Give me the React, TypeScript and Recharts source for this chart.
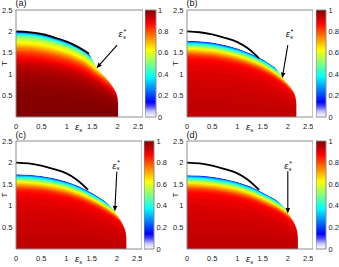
import React from 'react';
import { ComposedChart, BarChart, Bar, Area, Line, XAxis, YAxis, ReferenceLine, ReferenceDot } from 'recharts';

const FONT = '"Liberation Sans", Arial, Helvetica, sans-serif';
const FRAME = '#8c8c8c';
const TXT = '#1a1a1a';

const X_TICKS = [0, 0.5, 1, 1.5, 2, 2.5];
const Y_TICKS = [0.5, 1, 1.5, 2, 2.5];
const CB_TICKS = [0, 0.2, 0.4, 0.6, 0.8, 1];
const CB_DATA = [{ name: 'cb', v: 1 }];

// colormap (value -> colour), white-to-jet
const CMAP: [number, string][] = [
  [0, '#ffffff'], [0.05, '#c8c8ff'], [0.1, '#4646ff'], [0.14, '#0000ff'],
  [0.375, '#00ffff'], [0.625, '#ffff00'], [0.875, '#ff0000'], [1, '#800000'],
];

type Pt = { e: number; T: number };

// critical-temperature curves that shape the colour field (per panel)
const TC_A: Pt[] = [
  { e: 0, T: 2.0 }, { e: 0.25, T: 1.985 }, { e: 0.5, T: 1.94 }, { e: 0.75, T: 1.86 }, { e: 1.0, T: 1.76 },
  { e: 1.2, T: 1.65 }, { e: 1.4, T: 1.5 }, { e: 1.5, T: 1.39 }, { e: 1.6, T: 1.28 }, { e: 1.7, T: 1.18 },
  { e: 1.8, T: 1.07 }, { e: 1.9, T: 0.93 }, { e: 2.0, T: 0.72 }, { e: 2.05, T: 0.55 }, { e: 2.1, T: 0.3 }, { e: 2.13, T: 0 },
];
const TC_B: Pt[] = [
  { e: 0, T: 1.78 }, { e: 0.25, T: 1.77 }, { e: 0.5, T: 1.74 }, { e: 0.75, T: 1.68 }, { e: 1.0, T: 1.6 },
  { e: 1.25, T: 1.49 }, { e: 1.5, T: 1.35 }, { e: 1.75, T: 1.155 }, { e: 1.9, T: 1.0 }, { e: 2.0, T: 0.88 },
  { e: 2.1, T: 0.73 }, { e: 2.2, T: 0.52 }, { e: 2.25, T: 0.37 }, { e: 2.3, T: 0 },
];
const TC_C: Pt[] = [
  { e: 0, T: 1.73 }, { e: 0.25, T: 1.72 }, { e: 0.5, T: 1.69 }, { e: 0.75, T: 1.635 }, { e: 1.0, T: 1.56 },
  { e: 1.25, T: 1.45 }, { e: 1.5, T: 1.3 }, { e: 1.75, T: 1.12 }, { e: 1.9, T: 0.99 }, { e: 2.0, T: 0.89 },
  { e: 2.1, T: 0.76 }, { e: 2.2, T: 0.58 }, { e: 2.3, T: 0.32 }, { e: 2.35, T: 0 },
];
const TC_D: Pt[] = [
  { e: 0, T: 1.71 }, { e: 0.25, T: 1.7 }, { e: 0.5, T: 1.67 }, { e: 0.75, T: 1.62 }, { e: 1.0, T: 1.55 },
  { e: 1.25, T: 1.45 }, { e: 1.5, T: 1.31 }, { e: 1.75, T: 1.15 }, { e: 1.9, T: 1.03 }, { e: 2.0, T: 0.93 },
  { e: 2.1, T: 0.81 }, { e: 2.2, T: 0.65 }, { e: 2.3, T: 0.42 }, { e: 2.4, T: 0 },
];

// outer edge of the coloured (ordered) region
const EDGE_A: Pt[] = [
  { e: 0, T: 2.0 }, { e: 0.25, T: 1.985 }, { e: 0.5, T: 1.94 }, { e: 0.75, T: 1.86 }, { e: 1.0, T: 1.76 },
  { e: 1.2, T: 1.65 }, { e: 1.44, T: 1.47 }, { e: 1.5, T: 1.35 }, { e: 1.58, T: 1.16 }, { e: 1.65, T: 1.06 },
  { e: 1.75, T: 0.94 }, { e: 1.85, T: 0.8 }, { e: 1.92, T: 0.68 }, { e: 1.97, T: 0.57 }, { e: 2.0, T: 0.45 },
  { e: 2.01, T: 0.32 }, { e: 2.01, T: 0 }, { e: 2.5, T: 0 },
];
const EDGE_B: Pt[] = [
  { e: 0, T: 1.78 }, { e: 0.25, T: 1.77 }, { e: 0.5, T: 1.74 }, { e: 0.75, T: 1.68 }, { e: 1.0, T: 1.6 },
  { e: 1.25, T: 1.49 }, { e: 1.5, T: 1.35 }, { e: 1.75, T: 1.155 }, { e: 1.8, T: 1.08 }, { e: 1.85, T: 1.0 },
  { e: 1.89, T: 0.93 }, { e: 1.95, T: 0.84 }, { e: 2.0, T: 0.77 }, { e: 2.05, T: 0.7 }, { e: 2.1, T: 0.62 },
  { e: 2.14, T: 0.52 }, { e: 2.16, T: 0.42 }, { e: 2.17, T: 0.3 }, { e: 2.17, T: 0 }, { e: 2.5, T: 0 },
];
const EDGE_C: Pt[] = [
  { e: 0, T: 1.73 }, { e: 0.25, T: 1.72 }, { e: 0.5, T: 1.69 }, { e: 0.75, T: 1.635 }, { e: 1.0, T: 1.56 },
  { e: 1.25, T: 1.45 }, { e: 1.5, T: 1.3 }, { e: 1.75, T: 1.12 }, { e: 1.85, T: 1.02 }, { e: 1.96, T: 0.87 },
  { e: 2.0, T: 0.8 }, { e: 2.05, T: 0.71 }, { e: 2.09, T: 0.63 }, { e: 2.13, T: 0.54 }, { e: 2.16, T: 0.46 },
  { e: 2.18, T: 0.37 }, { e: 2.19, T: 0.25 }, { e: 2.19, T: 0 }, { e: 2.5, T: 0 },
];
const EDGE_D: Pt[] = [
  { e: 0, T: 1.71 }, { e: 0.25, T: 1.7 }, { e: 0.5, T: 1.67 }, { e: 0.75, T: 1.62 }, { e: 1.0, T: 1.55 },
  { e: 1.25, T: 1.45 }, { e: 1.5, T: 1.31 }, { e: 1.75, T: 1.15 }, { e: 1.85, T: 1.06 }, { e: 1.93, T: 0.96 },
  { e: 2.0, T: 0.84 }, { e: 2.05, T: 0.75 }, { e: 2.1, T: 0.66 }, { e: 2.14, T: 0.57 }, { e: 2.17, T: 0.48 },
  { e: 2.19, T: 0.38 }, { e: 2.2, T: 0.27 }, { e: 2.2, T: 0 }, { e: 2.5, T: 0 },
];

// black lines
const LINE_A: Pt[] = [
  { e: 0, T: 2.0 }, { e: 0.25, T: 1.985 }, { e: 0.5, T: 1.94 }, { e: 0.75, T: 1.86 }, { e: 1.0, T: 1.76 },
  { e: 1.2, T: 1.65 }, { e: 1.44, T: 1.48 },
];
const LINE_BCD: Pt[] = [
  { e: 0, T: 2.0 }, { e: 0.25, T: 1.98 }, { e: 0.5, T: 1.93 }, { e: 0.75, T: 1.85 }, { e: 1.0, T: 1.75 },
  { e: 1.2, T: 1.61 }, { e: 1.43, T: 1.37 },
];

// colour profile: [fraction of Tc, value]
const PROFILE_A: [number, number][] = [
  [1.0, 0.14], [0.993, 0.22], [0.985, 0.3], [0.975, 0.37], [0.965, 0.42], [0.953, 0.47], [0.94, 0.51],
  [0.925, 0.55], [0.91, 0.58], [0.895, 0.6], [0.88, 0.62], [0.865, 0.645], [0.85, 0.67], [0.835, 0.7],
  [0.82, 0.725], [0.805, 0.75], [0.79, 0.775], [0.775, 0.8], [0.76, 0.82], [0.74, 0.84], [0.72, 0.86],
  [0.69, 0.89], [0.66, 0.915], [0.62, 0.935], [0.58, 0.95], [0.53, 0.962], [0.48, 0.972], [0.42, 0.98],
  [0.35, 0.987], [0.27, 0.993], [0.18, 0.997],
];
const PROFILE_BCD: [number, number][] = [
  [1.0, 0.15], [0.993, 0.22], [0.985, 0.29], [0.975, 0.35], [0.965, 0.4], [0.953, 0.45], [0.94, 0.5],
  [0.928, 0.54], [0.916, 0.58], [0.905, 0.62], [0.892, 0.65], [0.879, 0.68], [0.866, 0.71], [0.853, 0.74],
  [0.84, 0.77], [0.826, 0.8], [0.81, 0.83], [0.79, 0.855], [0.765, 0.875], [0.73, 0.89], [0.68, 0.9],
  [0.6, 0.91], [0.5, 0.918], [0.4, 0.925], [0.3, 0.93], [0.2, 0.936],
];

// arrows [from, to] and star-label anchors
const ARROW_A: Pt[] = [{ e: 1.99, T: 1.68 }, { e: 1.585, T: 1.14 }];
const ARROW_B: Pt[] = [{ e: 2.0, T: 1.68 }, { e: 1.89, T: 0.91 }];
const ARROW_C: Pt[] = [{ e: 2.0, T: 1.79 }, { e: 1.96, T: 0.87 }];
const ARROW_D: Pt[] = [{ e: 2.0, T: 1.8 }, { e: 2.0, T: 0.82 }];
const STAR_A: Pt = { e: 2.02, T: 1.86 };
const STAR_B: Pt = { e: 1.96, T: 1.86 };
const STAR_C: Pt = { e: 1.91, T: 1.86 };
const STAR_D: Pt = { e: 1.93, T: 1.845 };

function hexRgb(h: string) {
  return [parseInt(h.slice(1, 3), 16), parseInt(h.slice(3, 5), 16), parseInt(h.slice(5, 7), 16)];
}
function cmap(v: number) {
  for (let i = 0; i < CMAP.length - 1; i++) {
    const [o0, c0] = CMAP[i];
    const [o1, c1] = CMAP[i + 1];
    if (v <= o1) {
      const t = (v - o0) / (o1 - o0);
      const a = hexRgb(c0), b = hexRgb(c1);
      const c = a.map((x, k) => Math.round(x + (b[k] - x) * t));
      return `rgb(${c[0]},${c[1]},${c[2]})`;
    }
  }
  return CMAP[CMAP.length - 1][1];
}

const ArrowShape = (pp: any) => {
  const { x1, y1, x2, y2 } = pp;
  const dx = x2 - x1, dy = y2 - y1;
  const L = Math.hypot(dx, dy) || 1;
  const ux = dx / L, uy = dy / L;
  const hl = 5.5, hw = 2.3;
  const bx = x2 - ux * hl, by = y2 - uy * hl;
  return (
    <g>
      <line x1={x1} y1={y1} x2={bx} y2={by} stroke="#000" strokeWidth={1.1} />
      <polygon points={`${x2},${y2} ${bx - uy * hw},${by + ux * hw} ${bx + uy * hw},${by - ux * hw}`} fill="#000" />
    </g>
  );
};

const StarShape = (pp: any) => {
  const { cx, cy } = pp;
  return (
    <g fontFamily={FONT} fill="#111">
      <text x={cx} y={cy} fontSize={9.5} fontStyle="italic">ε</text>
      <text x={cx + 4.3} y={cy + 1.4} fontSize={6} fontStyle="italic">s</text>
      <text x={cx + 5} y={cy - 3.2} fontSize={7}>*</text>
    </g>
  );
};

const XLabel = (props: any) => {
  const vb = props.viewBox || { x: 0, y: 0 };
  return (
    <g fontFamily={FONT} fill="#111">
      <text x={vb.x + 59} y={vb.y + 13.3} fontSize={9.5} fontStyle="italic">ε</text>
      <text x={vb.x + 63.3} y={vb.y + 14.8} fontSize={6} fontStyle="italic">s</text>
    </g>
  );
};

const YLabel = (props: any) => {
  const vb = props.viewBox || { x: 0, y: 0, width: 16, height: 100 };
  const letter = props.letter;
  const lift = props.lift;
  const tx = vb.x + vb.width - 12;
  const ty = vb.y + vb.height / 2;
  return (
    <g fontFamily={FONT} fill="#111">
      <text x={tx} y={ty} fontSize={8} textAnchor="middle" dominantBaseline="central" transform={`rotate(-90 ${tx} ${ty})`}>T</text>
      <text x={vb.x + vb.width - 0.5} y={vb.y - lift} fontSize={9}>{letter}</text>
    </g>
  );
};

interface PanelProps {
  left: number; top: number; width: number; height: number; marginTop: number; lift: number;
  tc: Pt[]; edge: Pt[]; line: Pt[]; profile: [number, number][]; arrow: Pt[]; star: Pt; letter: string;
}

function Panel(p: PanelProps) {
  const bandRows = p.tc.map((pt) => {
    const row: any = { e: pt.e };
    p.profile.forEach(([r], k) => { row['b' + k] = pt.T * r; });
    return row;
  });
  const maskRows = p.edge.map((pt) => ({ e: pt.e, range: [pt.T, 2.5] }));
  const tickStyle = { fontSize: 7.5, fill: TXT, fontFamily: FONT };
  return (
    <div style={{ position: 'absolute', left: p.left, top: p.top }}>
      <ComposedChart width={p.width} height={p.height} margin={{ top: p.marginTop, right: 0, left: 0, bottom: 0 }}>
        {p.profile.map(([, v], k) => (
          <Area key={'b' + k} data={bandRows} dataKey={'b' + k} xAxisId="m" yAxisId="m" type="monotone"
            stroke="none" fill={cmap(v)} fillOpacity={1} isAnimationActive={false} dot={false} activeDot={false} />
        ))}
        <Area data={maskRows} dataKey="range" xAxisId="m" yAxisId="m" type="linear" stroke="none" fill="#ffffff"
          fillOpacity={1} isAnimationActive={false} dot={false} activeDot={false} />
        <Line data={p.line} dataKey="T" xAxisId="m" yAxisId="m" type="monotone" stroke="#000" strokeWidth={1.8}
          dot={false} activeDot={false} isAnimationActive={false} />
        <ReferenceLine xAxisId="m" yAxisId="m" segment={[{ x: p.arrow[0].e, y: p.arrow[0].T }, { x: p.arrow[1].e, y: p.arrow[1].T }]}
          shape={ArrowShape} />
        <ReferenceDot xAxisId="m" yAxisId="m" x={p.star.e} y={p.star.T} r={0} shape={StarShape} />

        <XAxis xAxisId="m" dataKey="e" type="number" domain={[0, 2.5]} ticks={X_TICKS} height={18}
          tickSize={0} tickMargin={7} tickLine={false} axisLine={{ stroke: FRAME, strokeWidth: 1 }} tick={tickStyle}
          allowDataOverflow label={<XLabel />} />
        <XAxis xAxisId="bm" dataKey="e" type="number" domain={[0, 2.5]} ticks={X_TICKS} orientation="bottom" mirror
          tick={false} tickSize={2.5} tickLine={{ stroke: FRAME }} axisLine={false} />
        <XAxis xAxisId="t" dataKey="e" type="number" domain={[0, 2.5]} ticks={X_TICKS} orientation="top" mirror
          tick={false} tickSize={2.5} tickLine={{ stroke: FRAME }} axisLine={{ stroke: FRAME, strokeWidth: 1 }} />
        <YAxis yAxisId="m" type="number" domain={[0, 2.5]} ticks={Y_TICKS} width={16} tickSize={0} tickMargin={3.5}
          tickLine={false} axisLine={{ stroke: FRAME, strokeWidth: 1 }} tick={tickStyle} allowDataOverflow
          label={<YLabel letter={p.letter} lift={p.lift} />} />
        <YAxis yAxisId="lm" type="number" domain={[0, 2.5]} ticks={Y_TICKS} orientation="left" mirror
          tick={false} tickSize={2.5} tickLine={{ stroke: FRAME }} axisLine={false} />
        <YAxis yAxisId="r" type="number" domain={[0, 2.5]} ticks={Y_TICKS} orientation="right" mirror
          tick={false} tickSize={2.5} tickLine={{ stroke: FRAME }} axisLine={{ stroke: FRAME, strokeWidth: 1 }} />
      </ComposedChart>
    </div>
  );
}

interface BarProps { id: string; left: number; top: number; width: number; height: number; marginTop: number; axisW: number }

function ColorBar(p: BarProps) {
  return (
    <div style={{ position: 'absolute', left: p.left, top: p.top }}>
      <BarChart width={p.width} height={p.height} data={CB_DATA} barCategoryGap={0}
        margin={{ top: p.marginTop, bottom: 18, left: 0, right: 0 }}>
        <defs>
          <linearGradient id={p.id} x1="0" y1="1" x2="0" y2="0">
            {CMAP.map(([o, c]) => <stop key={o} offset={o} stopColor={c} />)}
          </linearGradient>
        </defs>
        <XAxis dataKey="name" hide />
        <YAxis orientation="right" domain={[0, 1]} ticks={CB_TICKS} width={p.axisW} tickSize={0} tickMargin={2.5}
          tickLine={false} axisLine={false} tick={{ fontSize: 7.5, fill: TXT, fontFamily: FONT }} />
        <YAxis yAxisId="l2" orientation="left" mirror domain={[0, 1]} ticks={CB_TICKS} tick={false} tickSize={1.5}
          tickLine={{ stroke: '#555' }} axisLine={false} />
        <YAxis yAxisId="r2" orientation="right" mirror domain={[0, 1]} ticks={CB_TICKS} tick={false} tickSize={1.5}
          tickLine={{ stroke: '#555' }} axisLine={false} />
        <Bar dataKey="v" fill={`url(#${p.id})`} stroke={FRAME} strokeWidth={1} isAnimationActive={false} />
      </BarChart>
    </div>
  );
}

export default function App() {
  return (
    <div style={{ position: 'absolute', left: 0, top: 0, width: 339, height: 267, background: '#fff', overflow: 'hidden' }}>
      <Panel left={0} top={0} width={143} height={135} marginTop={10} lift={3.6} tc={TC_A} edge={EDGE_A} line={LINE_A}
        profile={PROFILE_A} arrow={ARROW_A} star={STAR_A} letter="(a)" />
      <Panel left={171} top={0} width={142} height={135} marginTop={10} lift={3.6} tc={TC_B} edge={EDGE_B} line={LINE_BCD}
        profile={PROFILE_BCD} arrow={ARROW_B} star={STAR_B} letter="(b)" />
      <Panel left={0} top={130} width={142} height={137} marginTop={11} lift={3.3} tc={TC_C} edge={EDGE_C} line={LINE_BCD}
        profile={PROFILE_BCD} arrow={ARROW_C} star={STAR_C} letter="(c)" />
      <Panel left={171} top={130} width={142} height={137} marginTop={11} lift={3.3} tc={TC_D} edge={EDGE_D} line={LINE_BCD}
        profile={PROFILE_BCD} arrow={ARROW_D} star={STAR_D} letter="(d)" />
      <ColorBar id="cbA" left={144.5} top={0} width={25.5} height={135} marginTop={10} axisW={15} />
      <ColorBar id="cbB" left={315.5} top={0} width={23.5} height={135} marginTop={10} axisW={13.5} />
      <ColorBar id="cbC" left={144} top={130} width={26} height={137} marginTop={11} axisW={16} />
      <ColorBar id="cbD" left={315.5} top={130} width={23.5} height={137} marginTop={11} axisW={13.5} />
    </div>
  );
}
